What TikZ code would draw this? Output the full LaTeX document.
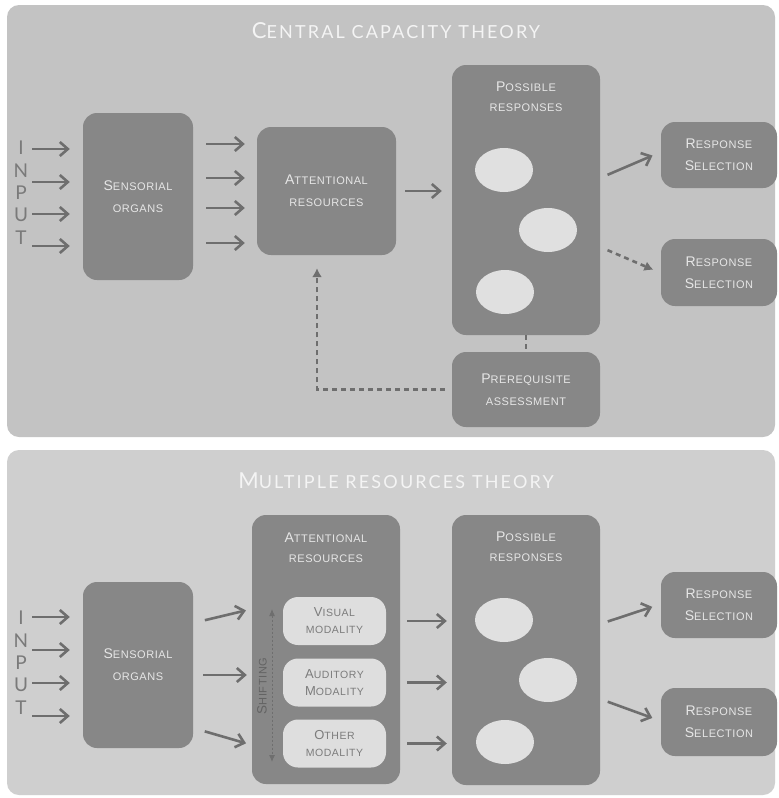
\documentclass[tikz,border=0pt]{standalone}
\usepackage{fontspec}
\setmainfont{Liberation Sans}
\newfontfamily\boxfont[LetterSpace=5]{Liberation Sans}
\newfontfamily\titlefont[LetterSpace=12]{Lato}
\newfontfamily\inputfont{Lato}
\usetikzlibrary{arrows.meta,shapes.geometric}

\definecolor{panelA}{HTML}{C3C3C3}
\definecolor{panelB}{HTML}{CFCFCF}
\definecolor{boxgray}{HTML}{878787}
\definecolor{boxtext}{HTML}{E6E6E6}
\definecolor{blobfill}{HTML}{E0E0E0}
\definecolor{modfill}{HTML}{DEDEDE}
\definecolor{modtext}{HTML}{7C7C7C}
\definecolor{arrgray}{HTML}{6E6E6E}
\definecolor{ingray}{HTML}{7A7A7A}
\definecolor{titlecol}{HTML}{F4F4F4}

% first letter of a small-caps word
\newcommand\Ini[2][14]{{\fontsize{#1}{20}\selectfont #2}}

\tikzset{
  box/.style={fill=boxgray, rounded corners=14pt, text=boxtext, align=center,
    inner sep=0pt, font=\boxfont\fontsize{11}{22}\selectfont},
  lbl/.style={text=boxtext, align=center, font=\boxfont\fontsize{11}{20}\selectfont},
  modal/.style={fill=modfill, rounded corners=15pt, text=modtext, align=center,
    minimum width=103pt, minimum height=48pt, inner sep=0pt,
    font=\boxfont\fontsize{10.5}{17}\selectfont},
  blob/.style={ellipse, fill=blobfill, minimum width=58pt, minimum height=44pt, inner sep=0pt},
  arr/.style={draw=arrgray, line width=2.6pt, -{Straight Barb[length=8pt,width=14pt]}},
  darr/.style={draw=arrgray, line width=2.6pt, dash pattern=on 5pt off 4pt,
    -{Latex[length=9pt,width=10pt]}},
  title/.style={text=titlecol, anchor=base, font=\titlefont\fontsize{18}{20}\selectfont},
  inl/.style={text=ingray, font=\inputfont\fontsize{19}{19}\selectfont},
}

\begin{document}
\begin{tikzpicture}[x=1pt, y=-1pt]
    \useasboundingbox[fill=white] (0,0) rectangle (779,798);
    % panels
    \fill[panelA, rounded corners=12pt] (7,5) rectangle (775,437);
    \fill[panelB, rounded corners=12pt] (7,450) rectangle (775,795);

    %%% central capacity theory
    \node[title] (title1) at (396,38) {\Ini[22]{C}ENTRAL CAPACITY THEORY};
    % input
    \foreach \l [count=\i] in {I,N,P,U,T}
        \node[inl] (inA\i) at (21,148+22.3*\i-22.3) {\l};
    \node[box, minimum width=110pt, minimum height=167pt] (sens1) at (138,196.5)
        {\Ini{S}ENSORIAL\\ORGANS};
    \node[box, minimum width=139pt, minimum height=128pt] (att1) at (326.5,191)
        {\Ini{A}TTENTIONAL\\RESOURCES};
    \node[box, minimum width=148pt, minimum height=270pt] (poss1) at (526,200) {};
    \node[lbl] (posslbl1) at ([yshift=-32pt]poss1.north) {\Ini{P}OSSIBLE\\RESPONSES};
    \node[blob] (blobA1) at (504,170) {};
    \node[blob] (blobA2) at (548,230) {};
    \node[blob] (blobA3) at (505,292) {};
    \node[box, minimum width=116pt, minimum height=66pt] (resp1) at (719,155)
        {\Ini{R}ESPONSE\\\Ini{S}ELECTION};
    \node[box, minimum width=116pt, minimum height=67pt] (resp2) at (719,272.5)
        {\Ini{R}ESPONSE\\\Ini{S}ELECTION};
    \node[box, minimum width=148pt, minimum height=75pt] (prq) at (526,389.5)
        {\Ini{P}REREQUISITE\\ASSESSMENT};

    \foreach \y in {149,182,214,246}
        \draw[arr, shorten >=13pt] (32,\y) -- (sens1.west |- 0,\y);
    \foreach \y in {144,178,208,243}
        \draw[arr, shorten <=13pt, shorten >=12pt] (sens1.east |- 0,\y) -- (att1.west |- 0,\y);
    \draw[arr, shorten <=9pt, shorten >=10pt] (att1.east) -- (poss1.west |- att1.east);
    \draw[arr, shorten <=8pt, shorten >=9pt] (poss1.east |- 0,178) -- (resp1.west |- 0,152);
    \draw[darr, shorten <=8pt, shorten >=8pt] (poss1.east |- 0,247) -- (resp2.west |- 0,273);
    \draw[arrgray, line width=2.6pt, dash pattern=on 5pt off 4pt] (poss1.south) -- (prq.north);
    \draw[darr, shorten <=7pt, shorten >=13pt] (prq.west) -| ([xshift=-9.5pt]att1.south);

    %%% multiple resources theory
    \node[title] (title2) at (396,488) {\Ini[22]{M}ULTIPLE RESOURCES THEORY};
    \foreach \l [count=\i] in {I,N,P,U,T}
        \node[inl] (inB\i) at (21,618+22.3*\i-22.3) {\l};
    \node[box, minimum width=110pt, minimum height=166pt] (sens2) at (138,665)
        {\Ini{S}ENSORIAL\\ORGANS};
    \node[box, minimum width=148pt, minimum height=269pt] (att2) at (326,649.5) {};
    \node[lbl] (attlbl2) at ([yshift=-33pt]att2.north) {\Ini{A}TTENTIONAL\\RESOURCES};
    \node[modal] (vis) at (334.5,621) {\Ini[13]{V}ISUAL\\MODALITY};
    \node[modal] (aud) at (334.5,682.5) {\Ini[13]{A}UDITORY\\\Ini[13]{M}ODALITY};
    \node[modal] (oth) at (334.5,743.5) {\Ini[13]{O}THER\\MODALITY};
    % shifting between modalities
    \coordinate (shtop) at (272,609);
    \coordinate (shbot) at (272,762);
    \draw[arrgray, line width=1pt, dash pattern=on 2pt off 2pt,
        {Latex[length=7pt,width=6pt]}-{Latex[length=7pt,width=6pt]}] (shtop) -- (shbot);
    \node[rotate=90, text=arrgray!90!black, font=\boxfont\fontsize{11}{12}\selectfont] (shlbl) at (262,686)
        {\Ini[13.5]{S}HIFTING};
    \node[box, minimum width=148pt, minimum height=270pt] (poss2) at (526,650) {};
    \node[lbl] (posslbl2) at ([yshift=-32pt]poss2.north) {\Ini{P}OSSIBLE\\RESPONSES};
    \node[blob] (blobB1) at (504,620) {};
    \node[blob] (blobB2) at (548,680) {};
    \node[blob] (blobB3) at (505,742) {};
    \node[box, minimum width=116pt, minimum height=66pt] (resp3) at (719,605)
        {\Ini{R}ESPONSE\\\Ini{S}ELECTION};
    \node[box, minimum width=116pt, minimum height=68pt] (resp4) at (719,722)
        {\Ini{R}ESPONSE\\\Ini{S}ELECTION};

    \foreach \y in {617,650,683,716}
        \draw[arr, shorten >=13pt] (32,\y) -- (sens2.west |- 0,\y);
    \draw[arr, shorten <=12pt, shorten >=6pt] (sens2.east |- 0,623) -- (att2.west |- 0,609);
    \draw[arr, shorten <=10pt, shorten >=5pt] (sens2.east |- 0,675) -- (att2.west |- 0,675);
    \draw[arr, shorten <=12pt, shorten >=6pt] (sens2.east |- 0,728) -- (att2.west |- 0,745);
    \foreach \m in {vis,aud,oth}
        \draw[arr, shorten <=21pt, shorten >=5pt] (\m.east) -- (poss2.west |- \m.east);
    \draw[arr, shorten <=8pt, shorten >=9pt] (poss2.east |- 0,624) -- (resp3.west |- 0,604);
    \draw[arr, shorten <=8pt, shorten >=9pt] (poss2.east |- 0,699) -- (resp4.west |- 0,721);
\end{tikzpicture}
\end{document}
